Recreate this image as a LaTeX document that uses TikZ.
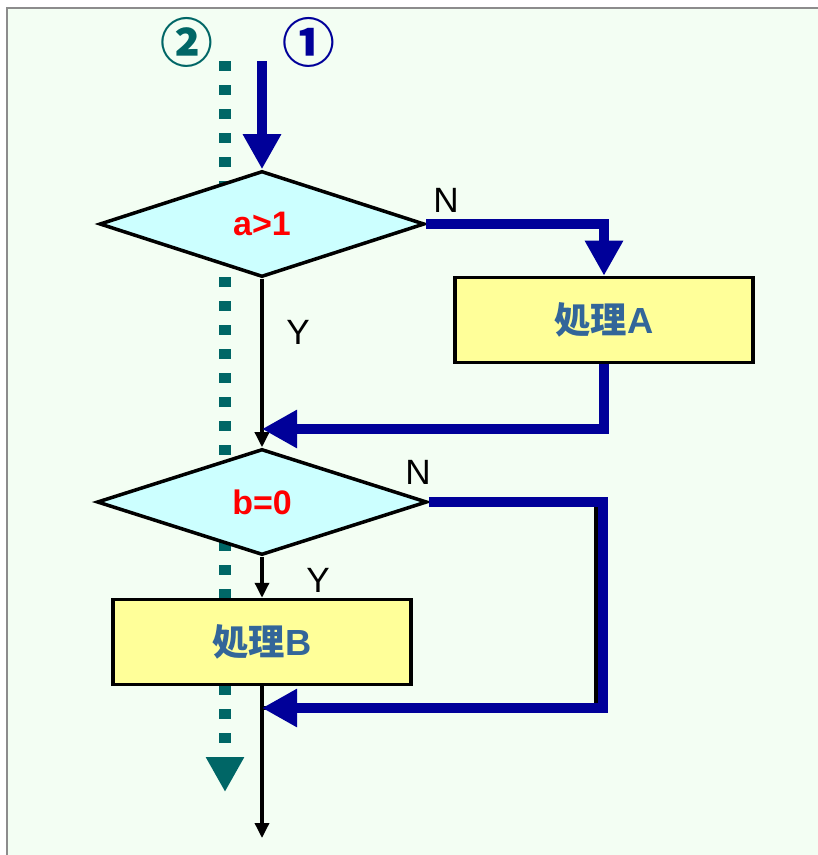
\documentclass[tikz,border=0pt]{standalone}
\usepackage{fontspec}
\setmainfont{Liberation Sans}
\newfontfamily\cjk{Noto Sans CJK JP}
\usetikzlibrary{shapes.geometric,arrows.meta}
\definecolor{bgpale}{RGB}{243,254,243}
\definecolor{framegray}{RGB}{140,140,140}
\definecolor{diacyan}{RGB}{204,255,255}
\definecolor{procyellow}{RGB}{255,255,153}
\definecolor{procblue}{RGB}{51,102,153}
\definecolor{routeblue}{RGB}{0,0,153}
\definecolor{routeteal}{RGB}{0,102,102}
\begin{document}
\begin{tikzpicture}[x=0.03cm,y=-0.03cm,>={Triangle[length=0.45cm,width=0.42cm]}]
    \tikzset{
        decision/.style={
            draw,
            diamond,
            line width=3pt,
            fill=diacyan,
            inner sep=0pt,
            minimum width=9.75cm,
            minimum height=3.18cm,
            text=red,
            font=\fontsize{29}{29}\selectfont\bfseries
        },
        process/.style={
            draw,
            line width=3pt,
            fill=procyellow,
            inner sep=0pt,
            minimum width=8.95cm,
            minimum height=2.55cm,
            text=procblue,
            font=\fontsize{31}{31}\selectfont\bfseries
        },
        branch/.style={inner sep=0pt,font=\fontsize{30}{30}\selectfont},
        flow/.style={->,line width=2.9pt},
        routeone/.style={draw=routeblue,line width=8.5pt,
            -{Triangle[length=1.05cm,width=1.08cm]}},
        routetwo/.style={draw=routeteal,line width=9.6pt,
            dash pattern=on 0.3cm off 0.42cm,
            -{Triangle[length=1.05cm,width=1.08cm]}},
        tag/.style={inner sep=0pt,font=\cjk\bfseries\fontsize{45}{45}\selectfont}
    }

    % frame
    \useasboundingbox (0,0) rectangle (818,855);
    \fill[white] (0,0) rectangle (818,855);
    \fill[bgpale] (7,8) rectangle (818,855);
    \draw[framegray,line width=1.6pt] (7,855) -- (7,8) -- (818,8);

    \coordinate (start1) at (262,61);
    \coordinate (start2) at (225,61);
    \coordinate (end2) at (225,792);
    \coordinate (joinA) at (262,429);
    \coordinate (bendB) at (596,708);
    \coordinate (bendBblue) at (603,708);
    \coordinate (joinB) at (262,708);
    \coordinate (exit) at (262,838);

    % route 2 runs behind the blocks
    \draw[routetwo] (start2) -- (end2);

    \node[decision] (cond1) at (262,224) {a>1};
    \node[decision,minimum width=9.9cm] (cond2) at (262,502) {b=0};
    \node[process] (procA) at (604,320) {{\cjk\bfseries 処理}A};
    \node[process] (procB) at (262,642) {{\cjk\bfseries 処理}B};

    \node[tag,text=routeteal] (tag2) at (187,42) {②};
    \node[tag,text=routeblue] (tag1) at (309,42) {①};

    \node[branch] (yes1) at (298,332) {Y};
    \node[branch] (no1) at (446,200) {N};
    \node[branch] (no2) at (418,472) {N};
    \node[branch] (yes2) at (318,580) {Y};

    \draw[flow] (cond1.south) -- (cond2.north);
    \draw[flow] (cond2.south) -- (procB.north);
    \draw[flow] (procB.south) -- (exit);
    \draw[line width=2.9pt] (cond2.east) -| (bendB) -- (joinB);

    % route 1
    \draw[routeone] (start1) -- (cond1.north);
    \draw[routeone] (cond1.east) -| (procA.north);
    \draw[routeone] (procA.south) |- (joinA);
    \draw[routeone] (cond2.east) -| (bendBblue) -- (joinB);
\end{tikzpicture}
\end{document}
